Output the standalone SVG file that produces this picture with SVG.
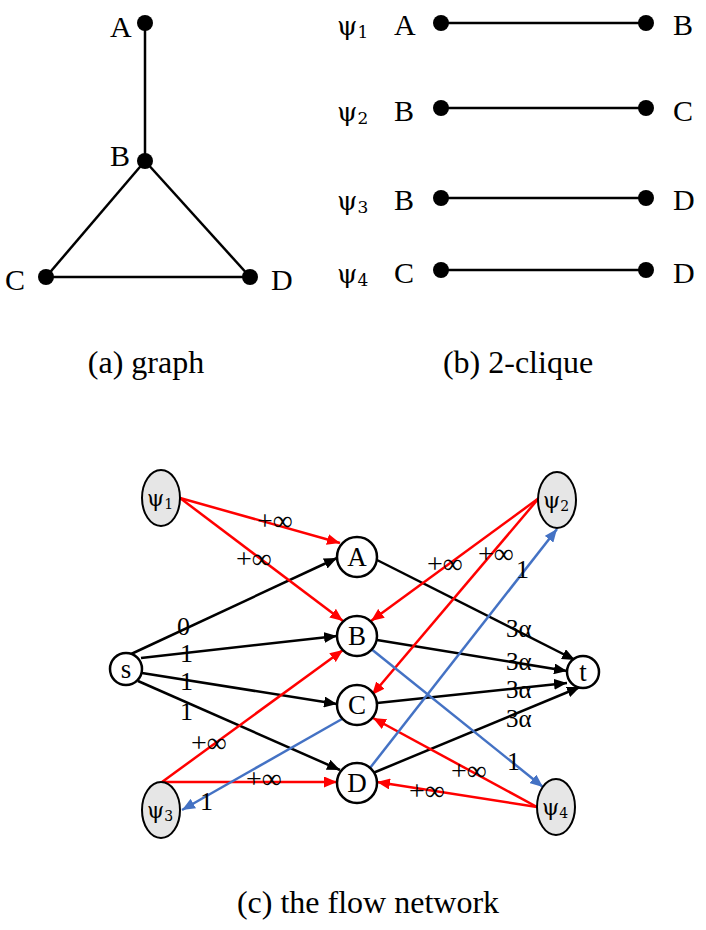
<svg xmlns="http://www.w3.org/2000/svg" width="706" height="930" viewBox="0 0 706 930">
<style>
text { font-family: "Liberation Serif", "Times New Roman", serif; fill: #000; }
.lbl { font-size: 30px; }
.cap { font-size: 32px; text-anchor: middle; }
.psi { font-family: "DejaVu Serif", "Liberation Serif", serif; }
.g { stroke: #000; stroke-width: 2.5; fill: none; }
.dot { fill: #000; }
.nd { fill: #fff; stroke: #000; stroke-width: 2.5; }
.ps { fill: #e6e6e6; stroke: #000; stroke-width: 2; }
.nl { font-size: 27px; text-anchor: middle; }
.el { font-size: 26px; }
.al { font-size: 25px; }
.inf { font-size: 28px; }
.k { stroke: #000; stroke-width: 2.5; fill: none; marker-end: url(#ak); }
.r { stroke: #ff0000; stroke-width: 2.5; fill: none; marker-end: url(#ar); }
.b { stroke: #4472c4; stroke-width: 2.5; fill: none; marker-end: url(#ab); }
</style>
<defs>
<marker id="ak" markerUnits="userSpaceOnUse" markerWidth="13" markerHeight="11" refX="13" refY="5.5" orient="auto"><path d="M0,0 L13,5.5 L0,11 z" fill="#000"/></marker>
<marker id="ar" markerUnits="userSpaceOnUse" markerWidth="13" markerHeight="11" refX="13" refY="5.5" orient="auto"><path d="M0,0 L13,5.5 L0,11 z" fill="#ff0000"/></marker>
<marker id="ab" markerUnits="userSpaceOnUse" markerWidth="13" markerHeight="11" refX="13" refY="5.5" orient="auto"><path d="M0,0 L13,5.5 L0,11 z" fill="#4472c4"/></marker>
</defs>

<!-- (a) graph -->
<g id="graph-edges">
<line class="g" x1="145" y1="23" x2="145" y2="161"/>
<line class="g" x1="145" y1="161" x2="46" y2="277"/>
<line class="g" x1="145" y1="161" x2="250" y2="277"/>
<line class="g" x1="46" y1="277" x2="250" y2="277"/>
</g>
<g id="ga"><circle class="dot" cx="145" cy="23" r="8"/><text class="lbl" x="110" y="37">A</text></g>
<g id="gb"><circle class="dot" cx="145" cy="161" r="8"/><text class="lbl" x="110" y="166">B</text></g>
<g id="gc"><circle class="dot" cx="46" cy="277" r="8"/><text class="lbl" x="5" y="290">C</text></g>
<g id="gd"><circle class="dot" cx="250" cy="277" r="8"/><text class="lbl" x="271" y="290">D</text></g>
<text class="cap" x="146" y="373">(a) graph</text>

<!-- (b) 2-clique -->
<g id="clique1">
<text class="psi" x="337" y="35" font-size="26">ψ<tspan font-size="17" dy="3">1</tspan></text>
<text class="lbl" x="394" y="35">A</text>
<line class="g" x1="441" y1="23" x2="646" y2="23"/><circle class="dot" cx="441" cy="23" r="8"/><circle class="dot" cx="646" cy="23" r="8"/>
<text class="lbl" x="673" y="35">B</text>
</g>
<g id="clique2">
<text class="psi" x="337" y="121" font-size="26">ψ<tspan font-size="17" dy="3">2</tspan></text>
<text class="lbl" x="394" y="121">B</text>
<line class="g" x1="441" y1="108" x2="646" y2="108"/><circle class="dot" cx="441" cy="108" r="8"/><circle class="dot" cx="646" cy="108" r="8"/>
<text class="lbl" x="673" y="121">C</text>
</g>
<g id="clique3">
<text class="psi" x="337" y="210" font-size="26">ψ<tspan font-size="17" dy="3">3</tspan></text>
<text class="lbl" x="394" y="210">B</text>
<line class="g" x1="441" y1="198" x2="646" y2="198"/><circle class="dot" cx="441" cy="198" r="8"/><circle class="dot" cx="646" cy="198" r="8"/>
<text class="lbl" x="673" y="210">D</text>
</g>
<g id="clique4">
<text class="psi" x="337" y="283" font-size="26">ψ<tspan font-size="17" dy="3">4</tspan></text>
<text class="lbl" x="394" y="283">C</text>
<line class="g" x1="441" y1="270" x2="646" y2="270"/><circle class="dot" cx="441" cy="270" r="8"/><circle class="dot" cx="646" cy="270" r="8"/>
<text class="lbl" x="673" y="283">D</text>
</g>
<text class="cap" x="518" y="373">(b) 2-clique</text>

<!-- (c) flow network -->
<g id="connectors">
<line class="k" x1="129" y1="655" x2="337" y2="558"/>
<line class="k" x1="141" y1="658" x2="337" y2="636"/>
<line class="k" x1="142" y1="673" x2="337" y2="704"/>
<line class="k" x1="138" y1="681" x2="340" y2="770"/>
<line class="k" x1="377" y1="560" x2="575" y2="660"/>
<line class="k" x1="377" y1="640" x2="567" y2="671"/>
<line class="k" x1="377" y1="703" x2="567" y2="683"/>
<line class="k" x1="373" y1="773" x2="580" y2="687"/>
<line class="r" x1="180" y1="498" x2="340" y2="543"/>
<line class="r" x1="180" y1="498" x2="343" y2="621"/>
<line class="r" x1="539" y1="498" x2="371" y2="621"/>
<line class="r" x1="539" y1="498" x2="372" y2="695"/>
<line class="r" x1="162" y1="782" x2="343" y2="650"/>
<line class="r" x1="162" y1="782" x2="337" y2="782"/>
<line class="r" x1="537" y1="807" x2="373" y2="718"/>
<line class="r" x1="537" y1="807" x2="377" y2="782"/>
<line class="b" x1="370" y1="768" x2="557" y2="529"/>
<line class="b" x1="370" y1="648" x2="543" y2="787"/>
<line class="b" x1="342" y1="719" x2="182" y2="810"/>
<g class="el">
<text x="177" y="635">0</text>
<text x="180" y="662">1</text>
<text x="180" y="690">1</text>
<text x="180" y="720">1</text>
<text x="516" y="578">1</text>
<text x="200" y="810">1</text>
<text x="507" y="770">1</text>
</g>
<g class="al">
<text x="506" y="637">3α</text>
<text x="506" y="670">3α</text>
<text x="506" y="698">3α</text>
<text x="506" y="727">3α</text>
</g>
<g class="inf">
<text x="257" y="530">+∞</text>
<text x="236" y="568">+∞</text>
<text x="427" y="573">+∞</text>
<text x="478" y="563">+∞</text>
<text x="191" y="752">+∞</text>
<text x="246" y="788">+∞</text>
<text x="451" y="780">+∞</text>
<text x="409" y="800">+∞</text>
</g>
</g>
<g id="s"><circle class="nd" cx="126" cy="669" r="16"/><text class="nl" x="126" y="678">s</text></g>
<g id="t"><circle class="nd" cx="583" cy="672" r="16"/><text class="nl" x="583" y="681">t</text></g>
<g id="A"><circle class="nd" cx="357" cy="557" r="20"/><text class="nl" x="357" y="566">A</text></g>
<g id="B"><circle class="nd" cx="357" cy="636" r="20"/><text class="nl" x="357" y="645">B</text></g>
<g id="C"><circle class="nd" cx="357" cy="705" r="20"/><text class="nl" x="357" y="714">C</text></g>
<g id="D"><circle class="nd" cx="357" cy="783" r="20"/><text class="nl" x="357" y="792">D</text></g>
<g id="psi1"><ellipse class="ps" cx="161" cy="498" rx="19" ry="28"/><text class="psi" x="160" y="506" font-size="22" text-anchor="middle">ψ<tspan font-size="14" dy="3">1</tspan></text></g>
<g id="psi2"><ellipse class="ps" cx="557" cy="500" rx="19" ry="28"/><text class="psi" x="556" y="508" font-size="22" text-anchor="middle">ψ<tspan font-size="14" dy="3">2</tspan></text></g>
<g id="psi3"><ellipse class="ps" cx="161" cy="810" rx="19" ry="28"/><text class="psi" x="160" y="818" font-size="22" text-anchor="middle">ψ<tspan font-size="14" dy="3">3</tspan></text></g>
<g id="psi4"><ellipse class="ps" cx="556" cy="807" rx="19" ry="28"/><text class="psi" x="555" y="815" font-size="22" text-anchor="middle">ψ<tspan font-size="14" dy="3">4</tspan></text></g>
<text class="cap" x="368" y="913">(c) the flow network</text>
</svg>
